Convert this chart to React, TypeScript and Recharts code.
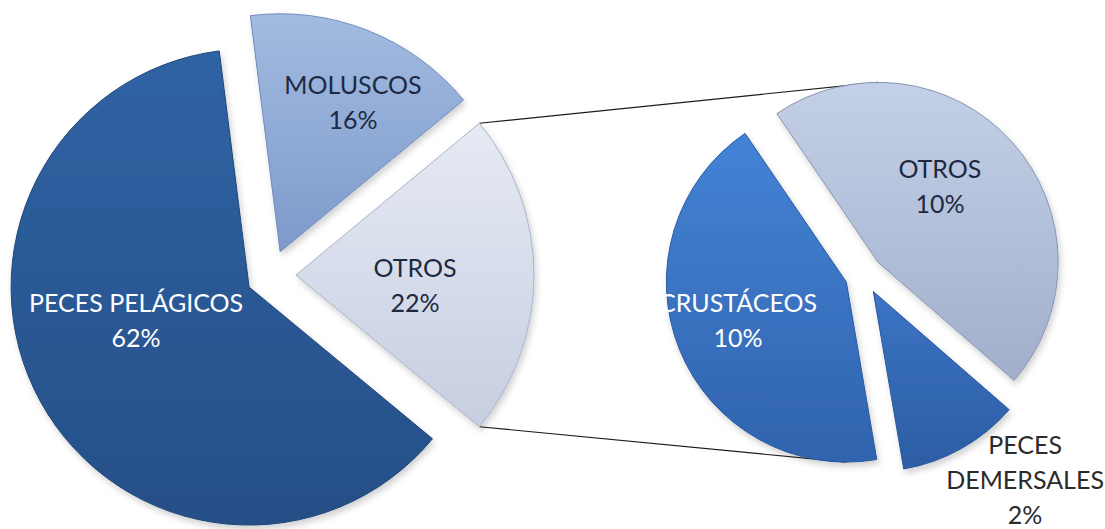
import React from 'react';
import { PieChart, Pie, Cell, Sector, Customized } from 'recharts';

// ---- data ----
const MAIN_NAMES = ['OTROS', 'MOLUSCOS', 'PECES PELÁGICOS'];
const MAIN_VALUES = [22, 16, 62];
const SUB_NAMES = ['OTROS', 'CRUSTÁCEOS', 'PECES DEMERSALES'];
const SUB_VALUES = [10.1, 9.5, 2.4];

const mainData = MAIN_NAMES.map((name, i) => ({ name, value: MAIN_VALUES[i] }));
const subData = SUB_NAMES.map((name, i) => ({ name, value: SUB_VALUES[i] }));

// ---- layout / style ----
const W = 1105;
const H = 529;
const MAIN = { cx: 271, cy: 275, r: 238, explode: 25, start: -39.6 };
const SUB = { cx: 864, cy: 275, r: 180, explode: 19, start: -41 };

const MAIN_FILLS = ['url(#gOtrosMain)', 'url(#gMoluscos)', 'url(#gPelagicos)'];
const MAIN_STROKES = ['#a9b3c9', '#6f8cbc', '#1f4577'];
const SUB_FILLS = ['url(#gOtrosSub)', 'url(#gCrust)', 'url(#gDemers)'];
const SUB_STROKES = ['#8795b2', '#2a5a9e', '#28579a'];

const MAIN_LABEL = [
  { f: 0.507, da: -9.5, color: '#1d2942' },
  { f: 0.664, da: -5.8, color: '#1d2942' },
  { f: 0.508, da: -8, color: '#ffffff' },
];
const SUB_LABEL = [
  { f: 0.504, da: 5.5, color: '#1d2942' },
  { f: 0.658, da: 1.8, color: '#ffffff' },
  { f: 1.383, da: 8.2, color: '#2b2b2b', wrap: true },
];

const FONT = 'Lato, "Open Sans", "DejaVu Sans", sans-serif';
const FONT_SIZE = 25;
const LINE_H = 35;
const RAD = Math.PI / 180;

const polar = (x: number, y: number, r: number, a: number) => ({
  x: x + r * Math.cos(a * RAD),
  y: y - r * Math.sin(a * RAD),
});

const makeShape = (explode: number) => (props: any) => {
  const { cx, cy, midAngle } = props;
  const p = polar(cx, cy, explode, midAngle);
  return <Sector {...props} cx={p.x} cy={p.y} filter="url(#shadow)" />;
};

const makeLabel = (explode: number, layout: any[]) => (props: any) => {
  const { cx, cy, midAngle, outerRadius, index, name, value } = props;
  const cfg = layout[index];
  const v = polar(cx, cy, explode, midAngle);
  const p = polar(v.x, v.y, cfg.f * outerRadius, midAngle + cfg.da);
  const lines: string[] = cfg.wrap ? String(name).split(' ') : [String(name)];
  lines.push(`${Math.round(value)}%`);
  const firstY = p.y - ((lines.length - 1) * LINE_H) / 2;
  return (
    <text
      key={`lbl-${index}`}
      x={p.x}
      y={firstY}
      textAnchor="middle"
      fill={cfg.color}
      fontFamily={FONT}
      fontSize={FONT_SIZE}
    >
      {lines.map((t, i) => (
        <tspan key={i} x={p.x} y={firstY + i * LINE_H}>
          {t}
        </tspan>
      ))}
    </text>
  );
};

function sliceGeom(values: number[], cfg: typeof MAIN, idx: number) {
  const total = values.reduce((a, b) => a + b, 0);
  let start = cfg.start;
  for (let i = 0; i < idx; i++) start += (values[i] / total) * 360;
  const end = start + (values[idx] / total) * 360;
  const mid = (start + end) / 2;
  const v = polar(cfg.cx, cfg.cy, cfg.explode, mid);
  return { start, end, mid, v };
}

const Connectors = () => {
  const m = sliceGeom(MAIN_VALUES, MAIN, 0);
  const topA = polar(m.v.x, m.v.y, MAIN.r, m.end);
  const botA = polar(m.v.x, m.v.y, MAIN.r, m.start);
  const s0 = sliceGeom(SUB_VALUES, SUB, 0);
  const s1 = sliceGeom(SUB_VALUES, SUB, 1);
  const topB = polar(s0.v.x, s0.v.y, SUB.r, 90);
  const botB = polar(s1.v.x, s1.v.y, SUB.r, 270);
  return (
    <g>
      <line x1={topA.x} y1={topA.y} x2={topB.x} y2={topB.y} stroke="#1a1a1a" strokeWidth={1.1} />
      <line x1={botA.x} y1={botA.y} x2={botB.x} y2={botB.y} stroke="#1a1a1a" strokeWidth={1.1} />
    </g>
  );
};

const Grad = ({ id, top, bottom }: { id: string; top: string; bottom: string }) => (
  <linearGradient id={id} x1="0" y1="0" x2="0" y2="1">
    <stop offset="0%" stopColor={top} />
    <stop offset="100%" stopColor={bottom} />
  </linearGradient>
);

const mainShape = makeShape(MAIN.explode);
const subShape = makeShape(SUB.explode);

export default function App() {
  return (
    <div style={{ position: 'absolute', left: 0, top: 0, width: W, height: H, background: '#fff' }}>
      <svg width={0} height={0} style={{ position: 'absolute' }}>
        <defs>
          <Grad id="gOtrosMain" top="#e6eaf4" bottom="#c6cee0" />
          <Grad id="gMoluscos" top="#a2bbe0" bottom="#7d9acb" />
          <Grad id="gPelagicos" top="#2f63a4" bottom="#264f87" />
          <Grad id="gOtrosSub" top="#c3d0e7" bottom="#a1afcb" />
          <Grad id="gCrust" top="#4483d6" bottom="#3063ad" />
          <Grad id="gDemers" top="#3b74c4" bottom="#2c5da4" />
          <filter id="shadow" x="-20%" y="-20%" width="140%" height="140%">
            <feDropShadow dx="2" dy="4" stdDeviation="3" floodColor="#000" floodOpacity="0.18" />
          </filter>
        </defs>
      </svg>
      <PieChart width={W} height={H} margin={{ top: 0, right: 0, bottom: 0, left: 0 }}>
        <Customized component={Connectors} />
        <Pie
          data={mainData}
          dataKey="value"
          nameKey="name"
          cx={MAIN.cx}
          cy={MAIN.cy}
          outerRadius={MAIN.r}
          innerRadius={0}
          startAngle={MAIN.start}
          endAngle={MAIN.start + 360}
          isAnimationActive={false}
          labelLine={false}
          label={makeLabel(MAIN.explode, MAIN_LABEL)}
          shape={mainShape}
          activeShape={mainShape}
          inactiveShape={mainShape}
        >
          {mainData.map((d, i) => (
            <Cell key={d.name} fill={MAIN_FILLS[i]} stroke={MAIN_STROKES[i]} strokeWidth={1} />
          ))}
        </Pie>
        <Pie
          data={subData}
          dataKey="value"
          nameKey="name"
          cx={SUB.cx}
          cy={SUB.cy}
          outerRadius={SUB.r}
          innerRadius={0}
          startAngle={SUB.start}
          endAngle={SUB.start + 360}
          isAnimationActive={false}
          labelLine={false}
          label={makeLabel(SUB.explode, SUB_LABEL)}
          shape={subShape}
          activeShape={subShape}
          inactiveShape={subShape}
        >
          {subData.map((d, i) => (
            <Cell key={d.name} fill={SUB_FILLS[i]} stroke={SUB_STROKES[i]} strokeWidth={1} />
          ))}
        </Pie>
      </PieChart>
    </div>
  );
}
